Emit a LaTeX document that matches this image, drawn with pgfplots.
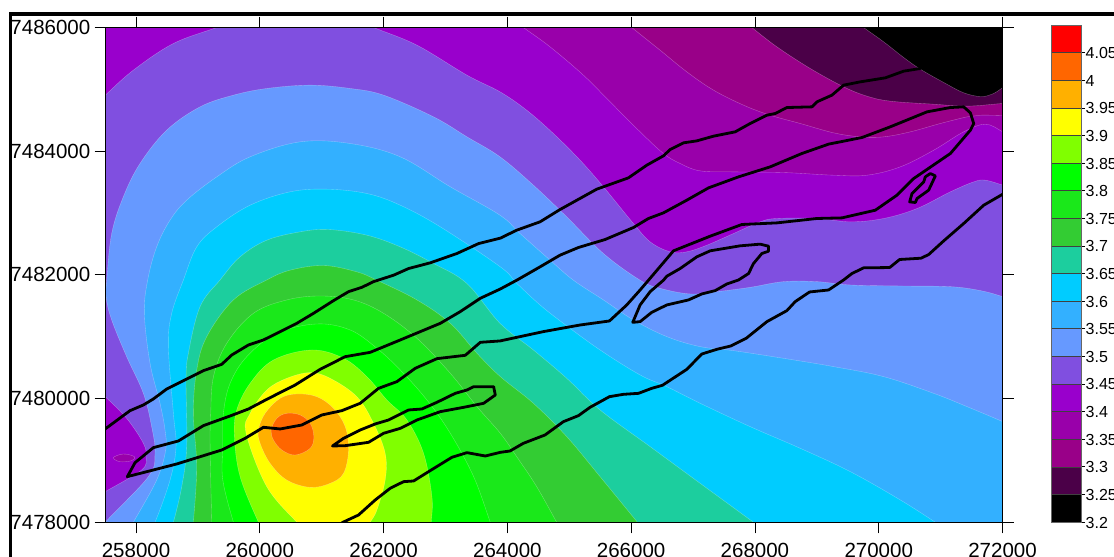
\documentclass[border=0pt]{standalone}
\usepackage{pgfplots}
\pgfplotsset{compat=1.18}
\usepackage{fontspec}
\setmainfont{Liberation Sans}
\definecolor{c320}{HTML}{000000}
\definecolor{c325}{HTML}{4B0048}
\definecolor{c330}{HTML}{990088}
\definecolor{c335}{HTML}{9900AA}
\definecolor{c340}{HTML}{9900CC}
\definecolor{c345}{HTML}{804FE0}
\definecolor{c350}{HTML}{6699FF}
\definecolor{c355}{HTML}{33B0FF}
\definecolor{c360}{HTML}{00CCFF}
\definecolor{c365}{HTML}{1CCE9E}
\definecolor{c370}{HTML}{33CC33}
\definecolor{c375}{HTML}{1AE81A}
\definecolor{c380}{HTML}{00FF00}
\definecolor{c385}{HTML}{80FF00}
\definecolor{c390}{HTML}{FFFF00}
\definecolor{c395}{HTML}{FFB000}
\definecolor{c400}{HTML}{FF6600}
\definecolor{c405}{HTML}{FF0000}
\pgfplotsset{
  band/.style={fill=#1,draw=white,draw opacity=0.35,line width=0.35pt,line join=round,smooth,tension=0.6},
  cband/.style={fill=#1,draw=white,draw opacity=0.35,line width=0.35pt,line join=round,/tikz/smooth cycle,tension=0.6},
  coast/.style={draw=black,line width=2.8pt,line join=round,line cap=round},
  cb/.style={fill=#1,draw=black!75,line width=0.5pt}
}
\begin{document}
\begin{tikzpicture}[x=1pt,y=1pt]
\useasboundingbox (0,0) rectangle (1114,557);
\fill[black] (8.5,0) rectangle (12,544.5);
\fill[black] (8.5,544.5) rectangle (1114,541.3);
\begin{axis}[
  at={(105.5pt,34.7pt)},anchor=south west,
  width=897pt,height=494.8pt,scale only axis,
  xmin=257507,xmax=272000,ymin=7478000,ymax=7486000,
  xtick={258000,260000,262000,264000,266000,268000,270000,272000},
  ytick={7478000,7480000,7482000,7484000,7486000},
  scaled ticks=false,
  /pgf/number format/.cd,fixed,precision=0,1000 sep={},assume math mode=true,/pgfplots/.cd,
  tick pos=both,tick align=outside,xticklabel pos=bottom,yticklabel pos=left,
  major tick length=11pt,
  axis line style={black,line width=0.8pt},
  tick style={black,line width=0.8pt},
  ticklabel style={font=\fontsize{20.5}{20.5}\selectfont,inner sep=0pt},
  xticklabel style={yshift=-9.5pt},
  yticklabel style={xshift=-4pt},
  axis on top,
]
% base
\addplot[fill=c320,draw=none] coordinates {(257000,7477000)(272600,7477000)(272600,7487000)(257000,7487000)} --cycle;
% >= 3.25
\addplot[band=c325] coordinates {(257000,7487000)(269300,7486500)(269560,7486150)(269756,7486000)(270080,7485768)(270403,7485515)(270672,7485326)(271050,7485111)(271373,7484944)(271643,7484884)(271831,7484922)(272004,7485030)(272200,7485200)(272400,7485400)(272600,7477000)(257000,7477000)} --cycle;
% >= 3.30
\addplot[band=c330] coordinates {(257000,7487000)(267500,7486500)(267760,7486150)(267950,7486000)(268355,7485687)(268894,7485337)(269433,7485041)(269810,7484890)(270187,7484809)(270888,7484760)(271427,7484728)(272004,7484771)(272200,7484760)(272400,7484740)(272600,7477000)(257000,7477000)} --cycle;
% >= 3.35
\addplot[band=c335] coordinates {(257000,7487000)(265550,7486500)(265830,7486150)(266010,7486000)(266468,7485633)(266899,7485283)(267331,7484987)(267816,7484744)(268247,7484582)(268732,7484448)(269271,7484297)(269702,7484232)(270080,7484232)(270511,7484313)(270996,7484448)(271427,7484555)(271643,7484582)(272004,7484577)(272200,7484570)(272400,7484570)(272600,7477000)(257000,7477000)} --cycle;
% >= 3.40
\addplot[band=c340] coordinates {(257000,7487000)(263800,7486500)(264050,7486150)(264258,7486000)(264690,7485687)(265229,7485229)(265660,7484798)(266145,7484313)(266522,7483963)(266792,7483801)(267115,7483682)(267654,7483666)(268463,7483655)(269271,7483612)(269810,7483612)(270349,7483747)(270888,7484016)(271373,7484313)(271723,7484437)(272004,7484313)(272200,7484200)(272400,7484100)(272600,7477000)(257000,7477000)} --cycle;
% small closed low
\addplot[cband=c335] coordinates {(257634,7479045)(257795,7479104)(257973,7479061)(257930,7478997)(257741,7478980)} --cycle;
% >= 3.45
\addplot[band=c345] coordinates {(257000,7484500)(257300,7484720)(257504,7484906)(257957,7485310)(258604,7485741)(259305,7486000)(259700,7486150)(260500,7486400)(261500,7486150)(261838,7486000)(262539,7485714)(263347,7485229)(263881,7484960)(264312,7484663)(264743,7484286)(265175,7483855)(265552,7483424)(266037,7482831)(266307,7482534)(266630,7482373)(266899,7482373)(267223,7482480)(267654,7482669)(268085,7482858)(268355,7482912)(269002,7482912)(269541,7482858)(270080,7482912)(270619,7483073)(271158,7483343)(271535,7483504)(271723,7483531)(272004,7483451)(272200,7483390)(272400,7483340)(272600,7477000)(256800,7477000)(257000,7478100)(257300,7478350)(257504,7478495)(258092,7478846)(258162,7479061)(258119,7479277)(257849,7479681)(257504,7480031)(257300,7480230)(257000,7480500)(256800,7482500)} --cycle;
% >= 3.50
\addplot[band=c350] coordinates {(257300,7477600)(257400,7477800)(257504,7478000)(258200,7478738)(258307,7479115)(258253,7479546)(258119,7480085)(257849,7480678)(257607,7481271)(257515,7481648)(257526,7481914)(257607,7482669)(257795,7483262)(258065,7483801)(258496,7484340)(259035,7484717)(259574,7484906)(260113,7485014)(260814,7485068)(261461,7485014)(262000,7484906)(262808,7484555)(263347,7484232)(263881,7483909)(264420,7483451)(264959,7482938)(265552,7482346)(266145,7481914)(266468,7481783)(266953,7481692)(267385,7481729)(267924,7481799)(268463,7481891)(269002,7481891)(269541,7481837)(270349,7481821)(271158,7481810)(271643,7481746)(272004,7481648)(272200,7481570)(272400,7481500)(272600,7477000)} --cycle;
% >= 3.55
\addplot[band=c355] coordinates {(257700,7477600)(257840,7477800)(257957,7478000)(258334,7478684)(258480,7479169)(258469,7479492)(258388,7479924)(258227,7480570)(258135,7481379)(258189,7481918)(258334,7482453)(258550,7482885)(258819,7483208)(259305,7483585)(259844,7483909)(260652,7484151)(261461,7484124)(262269,7483909)(263078,7483424)(263881,7482965)(264204,7482669)(264690,7482238)(265067,7481914)(265552,7481595)(266037,7481271)(266576,7481002)(267115,7480840)(267654,7480775)(268463,7480651)(269271,7480517)(270080,7480355)(270888,7480085)(271427,7479870)(272004,7479627)(272200,7479530)(272400,7479430)(272600,7477000)} --cycle;
% >= 3.60
\addplot[band=c360] coordinates {(258050,7477600)(258180,7477800)(258307,7478000)(258550,7478684)(258647,7479223)(258604,7479762)(258523,7480840)(258577,7481379)(258766,7481918)(258981,7482453)(259305,7482777)(259844,7483127)(260490,7483343)(261083,7483386)(261730,7483316)(262269,7483127)(262916,7482777)(263886,7482130)(264151,7481864)(264528,7481514)(264905,7481217)(265498,7480786)(266145,7480382)(266576,7480193)(267115,7479924)(267924,7479546)(268732,7479196)(269541,7478819)(270349,7478361)(270915,7478000)(271200,7477800)(271500,7477600)} --cycle;
% >= 3.65
\addplot[band=c365] coordinates {(258450,7477600)(258530,7477800)(258604,7478000)(258739,7478576)(258819,7479223)(258809,7480301)(258846,7480732)(259035,7481487)(259358,7481918)(259682,7482292)(260113,7482561)(260652,7482696)(261110,7482734)(261730,7482642)(262269,7482453)(262808,7482184)(263347,7481860)(263881,7481217)(264420,7480786)(264959,7480328)(265498,7479816)(266307,7479223)(267115,7478630)(267977,7478000)(268250,7477800)(268500,7477600)} --cycle;
% >= 3.70
\addplot[band=c370] coordinates {(258890,7477600)(258900,7477800)(258927,7478000)(258981,7478900)(258927,7479762)(258981,7480463)(259143,7481002)(259574,7481595)(260113,7481918)(260490,7482076)(261029,7482152)(261568,7482049)(261892,7481914)(262539,7481595)(263078,7481217)(263509,7480732)(263886,7480355)(264420,7479924)(264959,7479385)(265498,7478738)(266102,7478000)(266270,7477800)(266430,7477600)} --cycle;
% >= 3.75
\addplot[band=c375] coordinates {(259240,7477600)(259230,7477800)(259224,7478000)(259197,7479223)(259207,7479762)(259251,7480355)(259466,7480894)(259897,7481379)(260436,7481595)(260975,7481659)(261514,7481595)(262000,7481379)(262539,7480975)(263078,7480409)(263509,7479870)(263886,7479439)(264151,7479061)(264474,7478576)(264797,7478000)(264910,7477800)(265020,7477600)} --cycle;
% >= 3.80
\addplot[band=c380] coordinates {(259730,7477600)(259650,7477800)(259574,7478000)(259402,7478684)(259402,7479223)(259412,7479762)(259520,7480247)(259790,7480678)(260275,7481056)(260922,7481207)(261461,7481109)(261892,7480813)(262269,7480463)(262700,7479978)(263078,7479439)(263455,7478738)(263724,7478000)(263800,7477800)(263870,7477600)} --cycle;
% >= 3.85
\addplot[band=c385] coordinates {(260200,7477600)(260090,7477800)(259978,7478000)(259682,7478738)(259590,7479385)(259628,7479816)(259844,7480247)(260221,7480624)(260841,7480786)(261353,7480651)(261730,7480355)(262053,7479978)(262377,7479654)(262646,7479115)(262781,7478414)(262770,7478000)(262760,7477800)(262750,7477600)} --cycle;
% >= 3.90
\addplot[band=c390] coordinates {(261000,7477600)(260800,7477800)(260598,7478000)(260113,7478576)(259779,7479439)(259844,7479762)(260113,7480139)(260436,7480328)(260814,7480420)(261137,7480328)(261568,7480031)(261838,7479600)(262026,7479115)(262026,7478684)(261892,7478199)(261784,7478000)(261670,7477800)(261550,7477600)} --cycle;
% >= 3.95
\addplot[cband=c395] coordinates {(259978,7479492)(260086,7479762)(260329,7480005)(260598,7480075)(260922,7480031)(261191,7479843)(261380,7479546)(261434,7479169)(261353,7478792)(261137,7478630)(260814,7478565)(260436,7478684)(260167,7478953)(260005,7479277)} --cycle;
% >= 4.00
\addplot[cband=c400] coordinates {(260183,7479492)(260275,7479681)(260436,7479762)(260652,7479735)(260814,7479600)(260873,7479385)(260814,7479196)(260571,7479088)(260356,7479169)(260221,7479331)} --cycle;
% outlines
\addplot[coast] coordinates {(257000,7479150)(257515,7479519)(257903,7479805)(258119,7479897)(258280,7479994)(258496,7480155)(258819,7480317)(259089,7480452)(259385,7480554)(259547,7480705)(259817,7480867)(260059,7480948)(260329,7481083)(260598,7481217)(260868,7481379)(261191,7481584)(261434,7481729)(261649,7481799)(261838,7481891)(262161,7481995)(262404,7482103)(262754,7482195)(263185,7482346)(263536,7482507)(263886,7482594)(264151,7482723)(264528,7482858)(264851,7483057)(265444,7483386)(265956,7483569)(266253,7483774)(266522,7483925)(266630,7484027)(266846,7484135)(267061,7484167)(267331,7484243)(267681,7484313)(267924,7484448)(268193,7484582)(268328,7484609)(268516,7484706)(268921,7484717)(269002,7484798)(269244,7484906)(269433,7485068)(269702,7485121)(270106,7485186)(270403,7485294)(270672,7485337)};
\addplot[coast] coordinates {(257860,7478738)(257984,7478964)(258280,7479207)(258685,7479315)(259089,7479563)(259520,7479719)(259817,7479832)(260113,7479988)(260571,7480220)(260975,7480473)(261380,7480678)(261784,7480748)(262269,7480948)(262916,7481217)(263239,7481406)(263563,7481622)(263886,7481772)(264151,7481914)(264528,7482130)(264851,7482319)(265148,7482443)(265579,7482572)(266037,7482766)(266280,7482912)(266522,7483003)(266899,7483208)(267250,7483407)(267735,7483585)(268247,7483747)(268759,7483963)(269190,7484114)(269729,7484221)(270187,7484394)(270780,7484636)(271158,7484706)(271373,7484717)(271481,7484620)(271535,7484448)(271481,7484340)(271158,7483963)(270565,7483558)(270295,7483289)(269945,7483046)(269406,7482922)(269002,7482912)(268355,7482841)(267789,7482815)(267277,7482626)(266684,7482389)(266280,7481914)(266145,7481756)(265929,7481514)(265649,7481255)(265175,7481190)(264582,7481083)(263881,7480932)(263563,7480910)(263320,7480700)(262862,7480646)(262512,7480490)(262215,7480274)(261919,7480166)(261622,7479924)(261326,7479805)(261002,7479735)(260679,7479573)(260329,7479509)(260059,7479536)(259763,7479358)(259385,7479169)(258658,7478943)} --cycle;
\addplot[coast] coordinates {(261200,7477900)(261342,7478000)(261595,7478118)(261865,7478361)(262107,7478550)(262323,7478657)(262485,7478668)(262727,7478819)(263104,7479051)(263347,7479126)(263643,7479072)(263886,7479131)(264043,7479153)(264258,7479277)(264609,7479412)(264905,7479627)(265148,7479724)(265336,7479859)(265649,7480031)(265875,7480069)(266118,7480085)(266333,7480166)(266506,7480215)(266899,7480473)(267142,7480721)(267385,7480797)(267611,7480851)(267859,7480975)(268193,7481244)(268516,7481422)(268651,7481568)(268883,7481724)(269190,7481756)(269433,7481918)(269567,7482022)(269756,7482114)(270177,7482119)(270338,7482249)(270683,7482270)(270807,7482329)(271050,7482550)(271373,7482831)(271697,7483127)(272004,7483305)(272300,7483500)};
\addplot[coast] coordinates {(266026,7481233)(266145,7481244)(266333,7481395)(266576,7481514)(266926,7481595)(267142,7481692)(267358,7481746)(267546,7481853)(267735,7481918)(267897,7482022)(267977,7482184)(268112,7482346)(268220,7482383)(268220,7482464)(268085,7482497)(267762,7482470)(267277,7482389)(267061,7482292)(266792,7482103)(266576,7481979)(266522,7481914)(266307,7481729)(266145,7481514)} --cycle;
\addplot[coast] coordinates {(270500,7483181)(270538,7483316)(270727,7483504)(270753,7483585)(270834,7483639)(270915,7483601)(270807,7483370)(270619,7483235)(270592,7483170)} --cycle;
\addplot[coast] coordinates {(261175,7479234)(261353,7479358)(261622,7479492)(261865,7479590)(262080,7479654)(262404,7479816)(262619,7479832)(262862,7479940)(263158,7480085)(263347,7480139)(263455,7480193)(263778,7480193)(263805,7480058)(263617,7479924)(263293,7479859)(262916,7479789)(262539,7479654)(262269,7479519)(262000,7479439)(261757,7479293)(261380,7479239)} --cycle;
\end{axis}
\begin{axis}[
  at={(1051pt,35pt)},anchor=south west,
  width=30pt,height=497pt,scale only axis,
  xmin=0,xmax=1,ymin=3.2,ymax=4.1,
  xtick=\empty,
  ytick={3.2,3.25,3.3,3.35,3.4,3.45,3.5,3.55,3.6,3.65,3.7,3.75,3.8,3.85,3.9,3.95,4,4.05},
  yticklabels={3.2,3.25,3.3,3.35,3.4,3.45,3.5,3.55,3.6,3.65,3.7,3.75,3.8,3.85,3.9,3.95,4,4.05},
  tick pos=right,tick align=outside,yticklabel pos=right,
  major tick length=4pt,
  tick style={black,line width=0.6pt},
  axis line style={black!60,line width=0.6pt},
  ticklabel style={font=\fontsize{16}{16}\selectfont,inner sep=0pt},
  yticklabel style={anchor=west,xshift=0.5pt,yshift=-0.5pt},
  axis on top,
]
\addplot[cb=c320] coordinates {(0,3.20)(1,3.20)(1,3.25)(0,3.25)} --cycle;
\addplot[cb=c325] coordinates {(0,3.25)(1,3.25)(1,3.30)(0,3.30)} --cycle;
\addplot[cb=c330] coordinates {(0,3.30)(1,3.30)(1,3.35)(0,3.35)} --cycle;
\addplot[cb=c335] coordinates {(0,3.35)(1,3.35)(1,3.40)(0,3.40)} --cycle;
\addplot[cb=c340] coordinates {(0,3.40)(1,3.40)(1,3.45)(0,3.45)} --cycle;
\addplot[cb=c345] coordinates {(0,3.45)(1,3.45)(1,3.50)(0,3.50)} --cycle;
\addplot[cb=c350] coordinates {(0,3.50)(1,3.50)(1,3.55)(0,3.55)} --cycle;
\addplot[cb=c355] coordinates {(0,3.55)(1,3.55)(1,3.60)(0,3.60)} --cycle;
\addplot[cb=c360] coordinates {(0,3.60)(1,3.60)(1,3.65)(0,3.65)} --cycle;
\addplot[cb=c365] coordinates {(0,3.65)(1,3.65)(1,3.70)(0,3.70)} --cycle;
\addplot[cb=c370] coordinates {(0,3.70)(1,3.70)(1,3.75)(0,3.75)} --cycle;
\addplot[cb=c375] coordinates {(0,3.75)(1,3.75)(1,3.80)(0,3.80)} --cycle;
\addplot[cb=c380] coordinates {(0,3.80)(1,3.80)(1,3.85)(0,3.85)} --cycle;
\addplot[cb=c385] coordinates {(0,3.85)(1,3.85)(1,3.90)(0,3.90)} --cycle;
\addplot[cb=c390] coordinates {(0,3.90)(1,3.90)(1,3.95)(0,3.95)} --cycle;
\addplot[cb=c395] coordinates {(0,3.95)(1,3.95)(1,4.00)(0,4.00)} --cycle;
\addplot[cb=c400] coordinates {(0,4.00)(1,4.00)(1,4.05)(0,4.05)} --cycle;
\addplot[cb=c405] coordinates {(0,4.05)(1,4.05)(1,4.10)(0,4.10)} --cycle;
\end{axis}
\end{tikzpicture}
\end{document}
